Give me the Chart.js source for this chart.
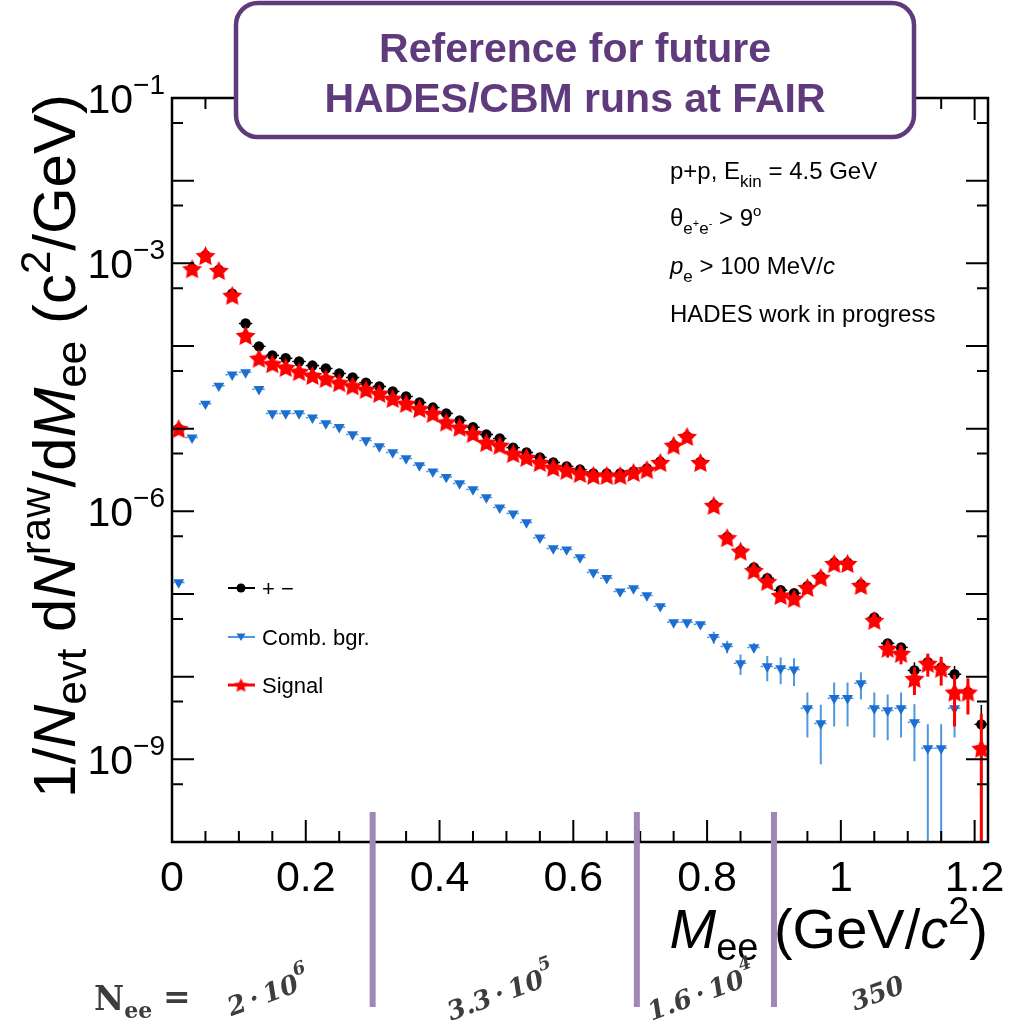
<!DOCTYPE html>
<html lang="en">
<head>
<meta charset="utf-8">
<title>e+e- invariant mass, p+p at 4.5 GeV</title>
<script src="https://cdn.jsdelivr.net/npm/chart.js@4.4.1/dist/chart.umd.min.js"></script>
<style>
  html, body { margin: 0; padding: 0; background: #ffffff; }
  canvas { display: block; }
</style>
</head>
<body>
<canvas id="chart" width="1023" height="1024"></canvas>
<script>
// Invariant-mass bin centres (GeV/c^2), 20 MeV bins
const massBins = [
  0.01, 0.03, 0.05, 0.07, 0.09, 0.11, 0.13, 0.15, 0.17, 0.19,
  0.21, 0.23, 0.25, 0.27, 0.29, 0.31, 0.33, 0.35, 0.37, 0.39,
  0.41, 0.43, 0.45, 0.47, 0.49, 0.51, 0.53, 0.55, 0.57, 0.59,
  0.61, 0.63, 0.65, 0.67, 0.69, 0.71, 0.73, 0.75, 0.77, 0.79,
  0.81, 0.83, 0.85, 0.87, 0.89, 0.91, 0.93, 0.95, 0.97, 0.99,
  1.01, 1.03, 1.05, 1.07, 1.09, 1.11, 1.13, 1.15, 1.17, 1.19,
  1.21,
];
const halfBin = 0.01;

// all opposite-sign pairs ("+ −")
const allPairs = [
  1.0e-5, 8.7e-4, 1.25e-3, 8.3e-4, 4.3e-4, 1.87e-4, 9.9e-5, 7.7e-5, 7.1e-5, 6.5e-5,
  5.8e-5, 5.35e-5, 4.65e-5, 4.16e-5, 3.6e-5, 3.24e-5, 2.82e-5, 2.45e-5, 2.07e-5, 1.8e-5,
  1.53e-5, 1.26e-5, 1.04e-5, 8.5e-6, 7.6e-6, 5.9e-6, 5.15e-6, 4.5e-6, 3.9e-6, 3.5e-6,
  3.2e-6, 2.87e-6, 2.87e-6, 2.87e-6, 3.03e-6, 3.3e-6, 4.0e-6, 6.3e-6, 8.05e-6, 3.95e-6,
  1.2e-6, 4.9e-7, 3.35e-7, 2.1e-7, 1.55e-7, 1.11e-7, 1.02e-7, 1.24e-7, 1.62e-7, 2.4e-7,
  2.4e-7, 1.31e-7, 5.2e-8, 2.53e-8, 2.26e-8, 1.19e-8, 1.5e-8, 1.29e-8, 1.07e-8, 6.5e-9,
  2.65e-9,
];
const allPairsErr = [
  0, 0, 0, 0, 0, 0, 0, 0, 0, 0,
  0, 0, 0, 0, 0, 0, 0, 0, 0, 0,
  0, 0, 0, 0, 0, 0, 0, 0, 0, 0,
  0, 0, 0, 0, 0, 0, 0, 0, 0, 0,
  0, 0, 0, 0, 0, 0, 0, 2e-9, 2e-9, 2.5e-9,
  2.5e-9, 2e-9, 2e-9, 3e-9, 3e-9, 3e-9, 3e-9, 3e-9, 2.8e-9, 3e-9,
  1.9e-9,
];

// combinatorial background
const combBgr = [
  1.38e-7, 7.8e-6, 2.0e-5, 3.3e-5, 4.5e-5, 4.8e-5, 3.0e-5, 1.53e-5, 1.53e-5, 1.53e-5,
  1.36e-5, 1.16e-5, 1.04e-5, 8.5e-6, 7.2e-6, 6.1e-6, 5.15e-6, 4.37e-6, 3.6e-6, 3.03e-6,
  2.6e-6, 2.17e-6, 1.84e-6, 1.47e-6, 1.11e-6, 9.4e-7, 7.35e-7, 4.8e-7, 3.55e-7, 3.45e-7,
  2.77e-7, 1.82e-7, 1.55e-7, 1.07e-7, 1.17e-7, 9.6e-8, 7.1e-8, 4.54e-8, 4.54e-8, 4.3e-8,
  3.0e-8, 2.32e-8, 1.45e-8, 2.26e-8, 1.33e-8, 1.26e-8, 1.22e-8, 4.14e-9, 2.72e-9, 5.5e-9,
  5.5e-9, 8.3e-9, 4.14e-9, 3.9e-9, 4.14e-9, 2.8e-9, 1.36e-9, 1.36e-9, 4.14e-9, null,
  1.36e-9,
];
const combBgrErr = [
  0, 0, 0, 0, 0, 0, 0, 0, 0, 0,
  0, 0, 0, 0, 0, 0, 0, 0, 0, 0,
  0, 0, 0, 0, 0, 0, 0, 0, 0, 0,
  0, 0, 0, 0, 0, 0, 2.5e-9, 3e-9, 3e-9, 3e-9,
  5e-9, 4e-9, 4e-9, 3e-9, 4.5e-9, 4.5e-9, 4.5e-9, 2.3e-9, 1.85e-9, 3e-9,
  3e-9, 3e-9, 2.3e-9, 2.2e-9, 2.3e-9, 1.85e-9, 1.3e-9, 1.3e-9, 2.3e-9, 0,
  1.3e-9,
];

// signal = all pairs minus background
const signal = [
  1.0e-5, 8.6e-4, 1.24e-3, 8.2e-4, 4.1e-4, 1.34e-4, 7.1e-5, 6.1e-5, 5.5e-5, 4.9e-5,
  4.4e-5, 4.05e-5, 3.6e-5, 3.3e-5, 2.98e-5, 2.67e-5, 2.32e-5, 2.02e-5, 1.75e-5, 1.53e-5,
  1.2e-5, 1.04e-5, 8.75e-6, 6.8e-6, 6.3e-6, 5.0e-6, 4.5e-6, 3.9e-6, 3.4e-6, 3.13e-6,
  2.87e-6, 2.72e-6, 2.72e-6, 2.72e-6, 2.95e-6, 3.2e-6, 3.9e-6, 6.3e-6, 8.05e-6, 3.9e-6,
  1.18e-6, 4.8e-7, 3.3e-7, 1.93e-7, 1.42e-7, 9.6e-8, 8.85e-8, 1.2e-7, 1.59e-7, 2.34e-7,
  2.34e-7, 1.27e-7, 4.8e-8, 2.2e-8, 1.91e-8, 9.5e-9, 1.45e-8, 1.26e-8, 6.5e-9, 6.5e-9,
  1.36e-9,
];
const signalErr = [
  0, 0, 0, 0, 0, 0, 0, 0, 0, 0,
  0, 0, 0, 0, 0, 0, 0, 0, 0, 0,
  0, 0, 0, 0, 0, 0, 0, 0, 0, 0,
  0, 0, 0, 0, 0, 0, 0, 0, 0, 0,
  0, 0, 0, 0, 0, 0, 0, 3e-9, 3e-9, 3.5e-9,
  3.5e-9, 3e-9, 3e-9, 5e-9, 5e-9, 3.5e-9, 4.5e-9, 4.8e-9, 4e-9, 3e-9,
  2.2e-9,
];

const xTicks = [0, 0.2, 0.4, 0.6, 0.8, 1.0, 1.2];
const xTickLabels = ["0", "0.2", "0.4", "0.6", "0.8", "1", "1.2"];
const yLabelPowers = [-1, -3, -6, -9];

// pair statistics per mass region, split at the region borders
const regionBorders = [0.3, 0.695, 0.9];
const regionCounts = [
  ["2\u2009·\u200910", "6"],
  ["3.3\u2009·\u200910", "5"],
  ["1.6\u2009·\u200910", "4"],
  ["350", ""],
];

const SANS = '"Liberation Sans", Arial, sans-serif';
const SERIF = '"DejaVu Serif", "Liberation Serif", serif';
const BLUE = "#1c6fd1";
const BLUE_BAR = "#4f97de";
const RED = "#ff0000";
const PURPLE = "#5f3a7d";
const REGION = "#9f88b4";

const fontOf = (p) =>
  `${p.italic ? "italic " : ""}${p.bold ? "bold " : ""}${p.size}px ${p.family || SANS}`;

const richWidth = (ctx, parts) =>
  parts.reduce((w, p) => {
    ctx.font = fontOf(p);
    return w + ctx.measureText(p.t).width;
  }, 0);

// Draw a run of text pieces, sub/superscripts are shifted by dy
const drawRich = (ctx, parts, x, y, align = "left") => {
  let cx = x;
  if (align === "center") cx -= richWidth(ctx, parts) / 2;
  if (align === "right") cx -= richWidth(ctx, parts);
  ctx.textAlign = "left";
  ctx.textBaseline = "alphabetic";
  parts.forEach((p) => {
    ctx.font = fontOf(p);
    ctx.fillText(p.t, cx, y + (p.dy || 0));
    cx += ctx.measureText(p.t).width;
  });
};

// Filled five-point star used for the signal points
const makeStar = (size, color) => {
  const c = document.createElement("canvas");
  c.width = c.height = size;
  const g = c.getContext("2d");
  const r = size / 2;
  g.beginPath();
  for (let i = 0; i < 10; i++) {
    const a = -Math.PI / 2 + (i * Math.PI) / 5;
    const rr = i % 2 ? r * 0.5 : r;
    g.lineTo(r + rr * Math.cos(a), r * 1.09 + rr * Math.sin(a));
  }
  g.closePath();
  g.fillStyle = color;
  g.fill();
  return c;
};
const starMarker = makeStar(21, RED);
const starLegend = makeStar(15, RED);

const toPoints = (values) => massBins.map((m, i) => ({ x: m, y: values[i] }));

// Error bars: bin width horizontally, statistical error vertically
const errorBars = {
  id: "errorBars",
  beforeDatasetDraw(chart, args) {
    const ds = chart.data.datasets[args.index];
    const { ctx, chartArea: a, scales: { x, y } } = chart;
    ctx.save();
    ctx.beginPath();
    ctx.rect(a.left, a.top, a.right - a.left, a.bottom - a.top);
    ctx.clip();
    ctx.strokeStyle = ds.barColor;
    ds.data.forEach((p, i) => {
      if (p.y == null) return;
      const px = x.getPixelForValue(p.x);
      const py = y.getPixelForValue(p.y);
      ctx.setLineDash(ds.binDash);
      ctx.lineWidth = 1.5;
      ctx.beginPath();
      ctx.moveTo(x.getPixelForValue(p.x - halfBin), py);
      ctx.lineTo(x.getPixelForValue(p.x + halfBin), py);
      ctx.stroke();
      const e = ds.errors[i];
      if (!e) return;
      const top = y.getPixelForValue(p.y + e);
      const bottom = p.y - e > 0 ? y.getPixelForValue(p.y - e) : a.bottom;
      ctx.setLineDash([]);
      ctx.lineWidth = ds.errWidth;
      ctx.beginPath();
      ctx.moveTo(px, top);
      ctx.lineTo(px, bottom);
      ctx.stroke();
    });
    ctx.restore();
  },
};

// Frame, inward ticks, tick labels, axis titles and legend
const frame = {
  id: "frame",
  afterDatasetsDraw(chart) {
    const { ctx, chartArea: a, scales: { x, y } } = chart;
    ctx.save();
    ctx.strokeStyle = "#000";
    ctx.fillStyle = "#000";

    ctx.lineWidth = 2;
    ctx.beginPath();
    for (let i = 0; i <= 24; i++) {
      const px = x.getPixelForValue(i * 0.05);
      const len = i % 4 === 0 ? 22 : 11;
      ctx.moveTo(px, a.bottom);
      ctx.lineTo(px, a.bottom - len);
      ctx.moveTo(px, a.top);
      ctx.lineTo(px, a.top + len);
    }
    for (let n = -10; n <= -1; n++) {
      const py = y.getPixelForValue(Math.pow(10, n));
      ctx.moveTo(a.left, py);
      ctx.lineTo(a.left + 22, py);
      ctx.moveTo(a.right, py);
      ctx.lineTo(a.right - 22, py);
      if (n > -10) {
        const pm = y.getPixelForValue(5 * Math.pow(10, n - 1));
        ctx.moveTo(a.left, pm);
        ctx.lineTo(a.left + 11, pm);
        ctx.moveTo(a.right, pm);
        ctx.lineTo(a.right - 11, pm);
      }
    }
    ctx.stroke();
    ctx.lineWidth = 2.5;
    ctx.strokeRect(a.left, a.top, a.right - a.left, a.bottom - a.top);

    // tick labels
    ctx.font = `43px ${SANS}`;
    ctx.textAlign = "center";
    ctx.textBaseline = "alphabetic";
    xTicks.forEach((v, i) => {
      ctx.fillText(xTickLabels[i], x.getPixelForValue(v), 891);
    });
    ctx.textAlign = "left";
    yLabelPowers.forEach((n) => {
      const py = y.getPixelForValue(Math.pow(10, n));
      drawRich(ctx, [
        { t: "10", size: 41, dy: 15 },
        { t: "\u2212" + -n, size: 28, dy: -4 },
      ], a.left - 7, py, "right");
    });

    // axis titles
    drawRich(ctx, [
      { t: "M", size: 56, italic: true },
      { t: "ee", size: 38, dy: 12 },
      { t: " (GeV/", size: 56 },
      { t: "c", size: 56, italic: true },
      { t: "2", size: 38, dy: -24 },
      { t: ")", size: 56 },
    ], a.right, 948, "right");

    ctx.save();
    ctx.translate(75, 446);
    ctx.rotate(-Math.PI / 2);
    drawRich(ctx, [
      { t: "1/", size: 60 },
      { t: "N", size: 60, italic: true },
      { t: "evt", size: 42, dy: 11 },
      { t: " d", size: 60 },
      { t: "N", size: 60, italic: true },
      { t: "raw", size: 42, dy: -25 },
      { t: "/d", size: 60 },
      { t: "M", size: 60, italic: true },
      { t: "ee", size: 42, dy: 11 },
      { t: " (c", size: 60 },
      { t: "2", size: 42, dy: -25 },
      { t: "/GeV)", size: 60 },
    ], 0, 0, "center");
    ctx.restore();

    // run conditions
    drawRich(ctx, [
      { t: "p+p, E", size: 24 },
      { t: "kin", size: 17, dy: 8 },
      { t: " = 4.5 GeV", size: 24 },
    ], 670, 179);
    drawRich(ctx, [
      { t: "\u03b8", size: 24 },
      { t: "e", size: 17, dy: 8 },
      { t: "+", size: 11, dy: 1 },
      { t: "e", size: 17, dy: 8 },
      { t: "-", size: 11, dy: 1 },
      { t: " > 9", size: 24 },
      { t: "o", size: 15, dy: -10 },
    ], 670, 226);
    drawRich(ctx, [
      { t: "p", size: 24, italic: true },
      { t: "e", size: 17, dy: 8 },
      { t: " > 100 MeV/", size: 24 },
      { t: "c", size: 24, italic: true },
    ], 670, 274);
    drawRich(ctx, [{ t: "HADES work in progress", size: 24 }], 670, 322);

    // legend
    const rows = [588, 637, 685];
    chart.data.datasets.forEach((ds, i) => {
      const ly = rows[i];
      ctx.strokeStyle = ds.barColor;
      ctx.lineWidth = ds.legendLine;
      ctx.beginPath();
      ctx.moveTo(228, ly);
      ctx.lineTo(255, ly);
      ctx.stroke();
      ctx.fillStyle = ds.backgroundColor;
      if (ds.marker === "dot") {
        ctx.beginPath();
        ctx.arc(241, ly, 4.5, 0, Math.PI * 2);
        ctx.fill();
      } else if (ds.marker === "down") {
        ctx.beginPath();
        ctx.moveTo(236.5, ly - 3.5);
        ctx.lineTo(245.5, ly - 3.5);
        ctx.lineTo(241, ly + 4);
        ctx.closePath();
        ctx.fill();
      } else {
        ctx.drawImage(starLegend, 241 - 7.5, ly - 7.5);
      }
      ctx.fillStyle = "#000";
      drawRich(ctx, [{ t: ds.label, size: 22 }], 262, ly + 8);
    });
    ctx.restore();
  },
};

// Region borders, pair counts and the header box
const overlay = {
  id: "overlay",
  afterDraw(chart) {
    const { ctx, scales: { x } } = chart;
    ctx.save();
    ctx.strokeStyle = REGION;
    ctx.lineWidth = 6;
    regionBorders.forEach((b) => {
      const px = x.getPixelForValue(b);
      ctx.beginPath();
      ctx.moveTo(px, 812);
      ctx.lineTo(px, 1007);
      ctx.stroke();
    });

    ctx.fillStyle = "#3d3d3d";
    drawRich(ctx, [
      { t: "N", size: 33, bold: true, family: SERIF },
      { t: "ee", size: 22, bold: true, family: SERIF, dy: 8 },
    ], 94, 1010);
    drawRich(ctx, [{ t: "=", size: 33, bold: true, family: SERIF }], 163, 1008);

    const edges = [x.min, ...regionBorders, x.max];
    regionCounts.forEach(([base, exp], i) => {
      const cx = x.getPixelForValue((edges[i] + edges[i + 1]) / 2) - 4;
      ctx.save();
      ctx.translate(cx, 992);
      ctx.rotate((-20 * Math.PI) / 180);
      drawRich(ctx, [
        { t: base, size: 26, bold: true, italic: true, family: SERIF, dy: 10 },
        { t: exp, size: 18, bold: true, italic: true, family: SERIF, dy: -6 },
      ], 0, 0, "center");
      ctx.restore();
    });

    // header box
    const bx = 236, by = 3, bw = 678, bh = 134, r = 22;
    ctx.beginPath();
    ctx.moveTo(bx + r, by);
    ctx.arcTo(bx + bw, by, bx + bw, by + bh, r);
    ctx.arcTo(bx + bw, by + bh, bx, by + bh, r);
    ctx.arcTo(bx, by + bh, bx, by, r);
    ctx.arcTo(bx, by, bx + bw, by, r);
    ctx.closePath();
    ctx.fillStyle = "#ffffff";
    ctx.fill();
    ctx.lineWidth = 4.5;
    ctx.strokeStyle = PURPLE;
    ctx.stroke();
    ctx.fillStyle = PURPLE;
    ctx.font = `bold 41px ${SANS}`;
    ctx.textAlign = "center";
    ctx.textBaseline = "alphabetic";
    ctx.fillText("Reference for future", bx + bw / 2, 62);
    ctx.fillText("HADES/CBM runs at FAIR", bx + bw / 2, 112);
    ctx.restore();
  },
};

const ctx = document.getElementById("chart").getContext("2d");
new Chart(ctx, {
  type: "scatter",
  data: {
    datasets: [
      {
        label: "+ \u2212",
        data: toPoints(allPairs),
        errors: allPairsErr,
        marker: "dot",
        pointStyle: "circle",
        pointRadius: 5.2,
        backgroundColor: "#000000",
        borderColor: "#000000",
        borderWidth: 0,
        barColor: "#000000",
        binDash: [],
        errWidth: 1.5,
        legendLine: 2,
        order: 1,
      },
      {
        label: "Comb. bgr.",
        data: toPoints(combBgr),
        errors: combBgrErr,
        marker: "down",
        pointStyle: "triangle",
        rotation: 180,
        pointRadius: 6.3,
        backgroundColor: BLUE,
        borderColor: BLUE,
        borderWidth: 0,
        barColor: BLUE_BAR,
        binDash: [2.5, 2.5],
        errWidth: 2,
        legendLine: 2,
        order: 2,
      },
      {
        label: "Signal",
        data: toPoints(signal),
        errors: signalErr,
        marker: "star",
        pointStyle: starMarker,
        pointRadius: 10,
        backgroundColor: RED,
        borderColor: RED,
        barColor: RED,
        binDash: [],
        errWidth: 3,
        legendLine: 3,
        order: 0,
      },
    ],
  },
  options: {
    responsive: false,
    animation: false,
    devicePixelRatio: 1,
    events: [],
    layout: { padding: { left: 172, right: 35, top: 98, bottom: 182 } },
    scales: {
      x: { type: "linear", min: 0, max: 1.22, display: false },
      y: { type: "logarithmic", min: 1e-10, max: 1e-1, display: false },
    },
    plugins: {
      legend: { display: false },
      tooltip: { enabled: false },
    },
  },
  plugins: [errorBars, frame, overlay],
});
</script>
</body>
</html>
